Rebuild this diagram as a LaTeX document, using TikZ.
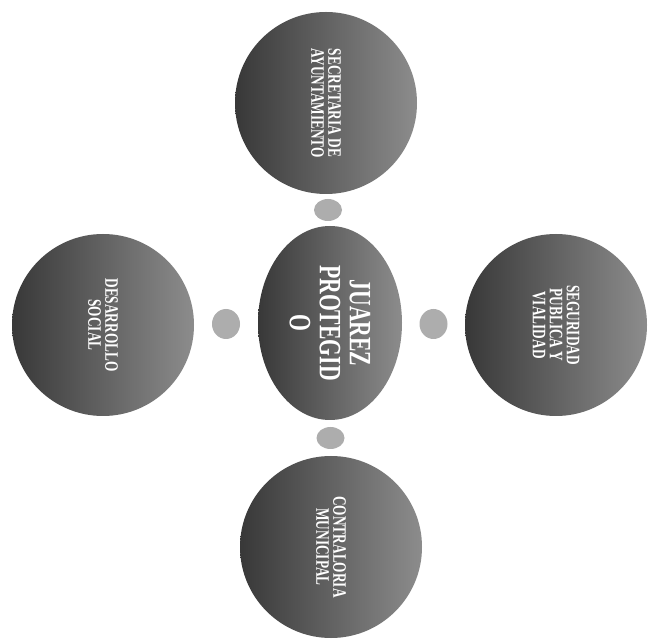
\documentclass[tikz,border=0pt]{standalone}
\usepackage{fontspec}
\setmainfont{Liberation Serif}
\newfontfamily\narrowfont{Liberation Serif Bold}[FakeStretch=0.7]
\usepackage{xcolor}
\usetikzlibrary{arrows.meta,positioning,shapes.geometric,calc}

\begin{document}
\begin{tikzpicture}[x=1pt, y=1pt,
    area/.style={circle, minimum size=182pt, inner sep=0pt, rotate=-90, left color=black!78, right color=black!45, text=white, align=center, font=\narrowfont\fontsize{19}{17}\selectfont},
    hub/.style={ellipse, minimum width=194pt, minimum height=144pt, inner sep=0pt, rotate=-90, left color=black!78, right color=black!45, text=white, align=center, font=\narrowfont\fontsize{31}{30}\selectfont},
    link/.style={ellipse, minimum width=28pt, minimum height=22pt, inner sep=0pt, fill=black!32}]
  \useasboundingbox (0,0) rectangle (656,640);
  \fill[white] (0,0) rectangle (656,640);
  \node[hub] (juarez) at (330,317) {JUAREZ\\PROTEGID\\O};
  \node[area] (ayunt) at (326,537) {SECRETARIA DE\\AYUNTAMIENTO};
  \node[area] (social) at (103,315) {DESARROLLO\\SOCIAL};
  \node[area] (vialidad) at (556,315) {SEGURIDAD\\PUBLICA Y\\VIALIDAD};
  \node[area] (contra) at (331,93) {CONTRALORIA\\MUNICIPAL};
  % small blobs between the hub and the outer circles (nodes are turned, so west is up)
  \node[link] (l-top) at ($(juarez.west)!0.5!(ayunt.east)$) {};
  \node[link, minimum height=30pt] (l-left) at ($(juarez.south)!0.5!(social.north)$) {};
  \node[link, minimum height=30pt] (l-right) at ($(juarez.north)!0.5!(vialidad.south)$) {};
  \node[link] (l-bot) at ($(juarez.east)!0.5!(contra.west)$) {};
\end{tikzpicture}
\end{document}
